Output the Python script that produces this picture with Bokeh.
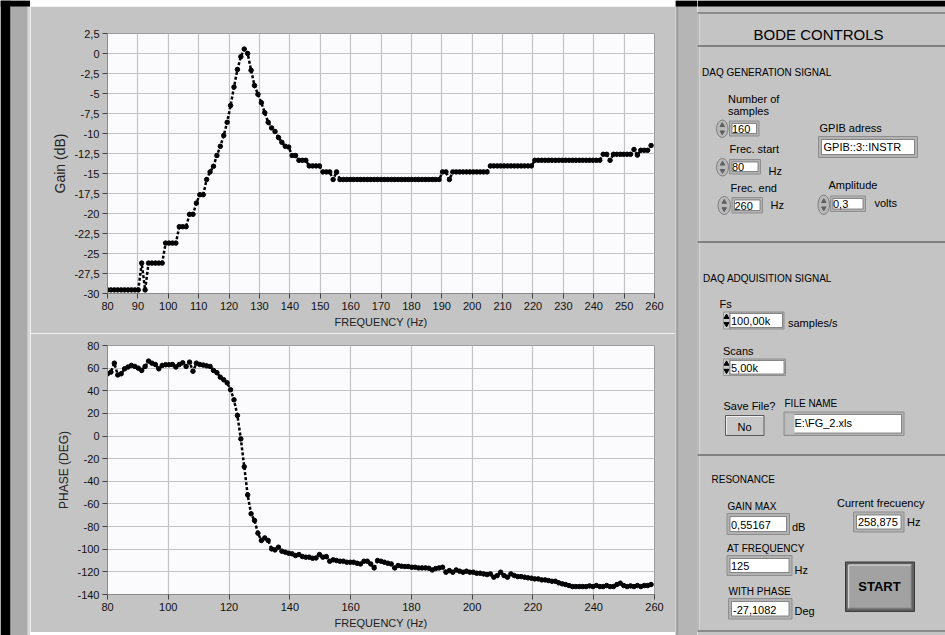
from bokeh.plotting import figure
from bokeh.models import FixedTicker, CustomJSTickFormatter, Range1d
from bokeh.layouts import row, column
from bokeh.embed import file_html
from bokeh.resources import INLINE
from bokeh.core.properties import value

# ---- sweep set-up (as shown in the control panel) ----
SAMPLES = 160
F_START = 80.0
F_END = 260.0
F_STEP = (F_END - F_START) / SAMPLES
freq = [F_START + F_STEP * i for i in range(SAMPLES)]

# ---- measured gain (dB), one value per sweep step ----
gain_db = [
    -29.55, -29.55, -29.55, -29.55, -29.55, -29.55, -29.55, -29.55, -29.55, -29.55,
    -26.2, -29.55, -26.2, -26.2, -26.2, -26.2, -26.2, -23.7, -23.7, -23.7,
    -23.7, -21.65, -21.65, -21.65, -20.1, -20.1, -18.7, -17.65, -17.65, -15.75,
    -14.8, -14.1, -12.75, -11.6, -10.25, -8.6, -6.5, -4.2, -2.0, -0.4,
    0.55167, 0.0, -2.1, -4.0, -5.1, -6.15, -7.4, -8.6, -9.3, -9.75,
    -10.5, -11.1, -11.6, -11.7, -12.75, -12.75, -13.35, -13.35, -13.35, -14.05,
    -14.05, -14.05, -14.05, -14.8, -14.8, -14.8, -15.75, -14.8, -15.75, -15.75,
    -15.75, -15.75, -15.75, -15.75, -15.75, -15.75, -15.75, -15.75, -15.75, -15.75,
    -15.75, -15.75, -15.75, -15.75, -15.75, -15.75, -15.75, -15.75, -15.75, -15.75,
    -15.75, -15.75, -15.75, -15.75, -15.75, -15.75, -15.75, -15.75, -14.8, -14.8,
    -15.75, -14.8, -14.8, -14.8, -14.8, -14.8, -14.8, -14.8, -14.8, -14.8,
    -14.8, -14.8, -14.05, -14.05, -14.05, -14.05, -14.05, -14.05, -14.05, -14.05,
    -14.05, -14.05, -14.05, -14.05, -14.05, -13.35, -13.35, -13.35, -13.35, -13.35,
    -13.35, -13.35, -13.35, -13.35, -13.35, -13.35, -13.35, -13.35, -13.35, -13.35,
    -13.35, -13.35, -13.35, -13.35, -13.35, -12.6, -12.6, -13.35, -12.6, -12.6,
    -12.6, -12.6, -12.6, -12.6, -12.0, -12.7, -12.1, -12.1, -12.1, -11.5,
]

# ---- measured phase (degrees) ----
phase_deg = [
    55.0, 56.5, 64.4, 54.0, 55.0, 59.4, 61.0, 62.4, 61.5, 60.0,
    58.0, 61.5, 66.2, 64.4, 63.2, 59.4, 62.4, 63.0, 63.0, 63.2,
    61.0, 63.2, 64.7, 61.5, 65.3, 57.3, 64.4, 63.2, 62.7, 62.0,
    61.5, 58.0, 56.0, 52.0, 49.7, 47.0, 40.9, 32.0, 18.2, -2.5,
    -27.1082, -52.0, -68.7, -74.6, -85.8, -92.3, -90.0, -92.3, -99.7, -100.6,
    -98.2, -101.7, -102.6, -103.5, -104.1, -105.6, -104.7, -106.5, -107.0, -107.0,
    -108.0, -107.7, -104.7, -107.0, -106.5, -110.6, -109.4, -110.0, -110.6, -110.6,
    -111.5, -111.5, -111.5, -112.4, -113.0, -110.6, -110.6, -113.0, -116.5, -110.0,
    -110.6, -111.5, -112.4, -113.0, -116.5, -114.4, -115.0, -115.3, -115.3, -115.9,
    -115.9, -116.5, -116.5, -116.5, -116.8, -118.3, -117.1, -116.5, -115.9, -120.3,
    -118.9, -120.3, -118.3, -119.4, -120.3, -119.4, -120.3, -120.3, -121.2, -121.2,
    -121.8, -122.4, -121.8, -124.7, -123.3, -120.3, -123.3, -124.7, -121.8, -123.3,
    -124.2, -124.2, -124.7, -125.3, -125.6, -126.2, -126.2, -127.1, -127.1, -127.7,
    -128.3, -128.3, -129.7, -130.6, -131.2, -132.1, -133.0, -133.0, -133.0, -133.0,
    -133.0, -132.4, -133.0, -132.1, -133.0, -133.0, -132.1, -133.0, -133.0, -131.2,
    -130.0, -132.1, -133.0, -132.4, -133.0, -132.1, -133.0, -132.1, -132.1, -131.2,
]

freq_ticks = [80, 90, 100, 110, 120, 130, 140, 150, 160, 170, 180, 190, 200,
              210, 220, 230, 240, 250, 260]
gain_ticks = [2.5, 0, -2.5, -5, -7.5, -10, -12.5, -15, -17.5, -20, -22.5, -25,
              -27.5, -30]
phase_freq_ticks = [80, 100, 120, 140, 160, 180, 200, 220, 240, 260]
phase_ticks = [80, 60, 40, 20, 0, -20, -40, -60, -80, -100, -120, -140]

# resonance read-outs derived from the measured data
peak_i = max(range(SAMPLES), key=lambda k: gain_db[k])


def comma(v, fmt):
    return format(v, fmt).replace(".", ",")


gain_max_txt = comma(gain_db[peak_i], ".5f")
at_freq_txt = comma(freq[peak_i], "g")
with_phase_txt = comma(phase_deg[peak_i], ".4f")
current_txt = comma(freq[-1], ".3f")

FONT = "Liberation Sans"
PANEL = "#C4C4C4"
PLOT_BG = "#FBFBFE"
GRID = "#C3C3C3"
DECIMAL_COMMA = CustomJSTickFormatter(code="return String(tick).replace('.', ',');")


def graph(width, height, xr, yr, borders, xticks, yticks, ylabel, ylabel_size):
    left, right, top, bottom = borders
    p = figure(width=width, height=height, x_range=xr, y_range=yr,
               output_backend="svg", toolbar_location=None,
               min_border_left=left, min_border_right=right,
               min_border_top=top, min_border_bottom=bottom,
               background_fill_color=PLOT_BG, border_fill_color=PANEL,
               outline_line_color="#9C9C9C")
    p.xaxis.ticker = FixedTicker(ticks=xticks)
    p.yaxis.ticker = FixedTicker(ticks=yticks)
    p.yaxis.formatter = DECIMAL_COMMA
    p.xaxis.axis_label = "FREQUENCY (Hz)"
    p.yaxis.axis_label = ylabel
    for ax in p.axis:
        ax.major_label_text_font = FONT
        ax.major_label_text_font_size = "11px"
        ax.major_label_text_color = "#111111"
        ax.axis_label_text_font = FONT
        ax.axis_label_text_font_style = "normal"
        ax.axis_label_text_color = "#222222"
        ax.major_tick_out = 5
        ax.major_tick_in = 0
        ax.minor_tick_out = 0
        ax.minor_tick_in = 0
        ax.major_tick_line_color = "#444444"
        ax.axis_line_color = "#8A8A8A"
        ax.major_label_standoff = 3
        ax.axis_label_standoff = 3
    p.xaxis.axis_label_text_font_size = "11px"
    p.yaxis.axis_label_text_font_size = ylabel_size
    p.grid.grid_line_color = GRID
    p.grid.grid_line_width = 1.2
    return p


def blank(width, height, x0, y0, fill=PANEL):
    """A bare figure whose data units are page pixels (y grows downwards)."""
    return figure(width=width, height=height, x_range=Range1d(x0, x0 + width),
                  y_range=Range1d(y0 + height, y0), output_backend="svg",
                  toolbar_location=None, min_border=0, x_axis_type=None, y_axis_type=None,
                  background_fill_color=fill, border_fill_color=fill,
                  outline_line_color=None)


# gain graph: page y 6..333, plot area 33..293
gain = graph(645, 327, Range1d(80, 260), Range1d(-30, 2.5), (77, 21, 27, 40),
             freq_ticks, gain_ticks, "Gain (dB)", "14px")
gain.line(freq, gain_db, line_color="black", line_width=2.5, line_dash="3 2")
gain.scatter(freq, gain_db, size=4.5, color="black")

# phase graph: page y 333..632, plot area 345..594
phase = graph(645, 299, Range1d(80, 260), Range1d(-140, 80), (77, 21, 12, 38),
              phase_freq_ticks, phase_ticks, "PHASE (DEG)", "12px")
phase.line(freq, phase_deg, line_color="black", line_width=2.5, line_dash="3 2")
phase.scatter(freq, phase_deg, size=4.5, color="black")

# window edge above the graphs and a thin strip below them
top_strip = blank(645, 6, 30, 0, fill="#000000")
bottom_strip = blank(645, 3, 30, 632, fill=PANEL)

# ---- control panel, drawn in page pixel coordinates ----
panel = blank(248, 635, 697, 0)
panel.quad(left=697, right=945, top=0, bottom=6, fill_color="#000000", line_color=None)

# frame and section dividers
panel.segment(x0=[697.5, 697, 697, 698.5], y0=[12, 12.5, 630.5, 13],
              x1=[697.5, 945, 945, 698.5], y1=[631, 12.5, 630.5, 630],
              line_color=["#505050", "#505050", "#505050", "#E6E6E6"], line_width=1)
panel.segment(x0=[697, 697, 697], y0=[45.5, 241.5, 454.5],
              x1=[945, 945, 945], y1=[45.5, 241.5, 454.5],
              line_color="#3C3C3C", line_width=1.2)


def field(x0, y0, x1, y1, inset=2.5):
    panel.quad(left=x0, right=x1, top=y0, bottom=y1, fill_color="#B2B2B2",
               line_color="#8E8E8E", line_width=1)
    panel.quad(left=x0 + inset, right=x1 - inset, top=y0 + inset, bottom=y1 - inset,
               fill_color="white", line_color="#707070", line_width=0.8)


def knob(x0, y0, x1, y1):
    cx, cy = (x0 + x1) / 2, (y0 + y1) / 2
    panel.ellipse(x=cx, y=cy, width=x1 - x0, height=y1 - y0, fill_color="#B9B9B9",
                  line_color="#7D7D7D", line_width=1)
    panel.scatter(x=[cx], y=[cy - 3.5], marker="triangle", size=4.5, color="#606060")
    panel.scatter(x=[cx], y=[cy + 3.5], marker="inverted_triangle", size=4.5, color="#606060")


def arrows(x0, y0, x1, y1):
    cx, cy = (x0 + x1) / 2, (y0 + y1) / 2
    panel.quad(left=x0, right=x1, top=y0, bottom=y1, fill_color="#CACACA",
               line_color="#8E8E8E", line_width=0.8)
    panel.scatter(x=[cx], y=[cy - 3.5], marker="triangle", size=5, color="black")
    panel.scatter(x=[cx], y=[cy + 3.5], marker="inverted_triangle", size=5, color="black")


field(729, 120.5, 758.5, 135.5)
knob(716, 119.5, 727.5, 137)
field(818, 136, 917, 157, inset=3)
field(729, 159, 760, 173.5)
knob(716, 158, 728, 175.5)
field(731.5, 197, 762, 212.5)
knob(717.5, 196, 730, 214)
field(830, 195.5, 865, 211)
knob(817.5, 194.5, 829, 214)
field(728, 311.5, 783.5, 328.5, inset=1.5)
arrows(723, 311.5, 729, 328.5)
field(728, 358.5, 785, 375, inset=1.5)
arrows(723, 358.5, 729, 375)
field(783.5, 411.5, 903.5, 435, inset=2.5)
panel.quad(left=785, right=794, top=413, bottom=433.5, fill_color="#BEBEBE", line_color=None)
field(726.5, 513, 789, 534, inset=3)
field(853, 511.5, 903.5, 531.5, inset=3)
field(726.5, 555, 791.5, 575, inset=3)
field(728, 598, 791.5, 618.5, inset=3)

# "No" toggle button
panel.quad(left=725, right=763.5, top=415, bottom=435, fill_color="#C8C8C8",
           line_color="#5A5A5A", line_width=1)
panel.segment(x0=[726, 726], y0=[416, 416], x1=[762.5, 726], y1=[416, 434],
              line_color="#F0F0F0", line_width=1)

# START button
panel.quad(left=845, right=914, top=561.5, bottom=611, fill_color="#5E5E5E",
           line_color="#3A3A3A", line_width=1)
panel.quad(left=848, right=911, top=564.5, bottom=608, fill_color="#A2A2A2",
           line_color=None)
panel.segment(x0=[848, 848], y0=[564.5, 564.5], x1=[911, 848], y1=[564.5, 608],
              line_color="#CFCFCF", line_width=1.5)
panel.segment(x0=[848, 911], y0=[608, 564.5], x1=[911, 911], y1=[608, 608],
              line_color="#7A7A7A", line_width=1.5)

labels = [
    ("BODE CONTROLS", 818, 33.5, "15px", "normal", "center"),
    ("DAQ GENERATION SIGNAL", 701.5, 71.5, "10px", "normal", "left"),
    ("Number of", 727.5, 98, "11px", "normal", "left"),
    ("samples", 727.5, 110, "11px", "normal", "left"),
    ("160", 731.5, 128.5, "11px", "normal", "left"),
    ("GPIB adress", 819, 127.5, "11px", "normal", "left"),
    ("GPIB::3::INSTR", 823, 146.5, "11px", "normal", "left"),
    ("Frec. start", 729, 148.5, "11px", "normal", "left"),
    ("80", 731.5, 166.5, "11px", "normal", "left"),
    ("Hz", 768, 170, "11px", "normal", "left"),
    ("Frec. end", 730, 187.5, "11px", "normal", "left"),
    ("260", 734, 205, "11px", "normal", "left"),
    ("Hz", 770, 204.5, "11px", "normal", "left"),
    ("Amplitude", 828, 184.5, "11px", "normal", "left"),
    ("0,3", 832.5, 203.5, "11px", "normal", "left"),
    ("volts", 874, 202.5, "11px", "normal", "left"),
    ("DAQ ADQUISITION SIGNAL", 702.5, 277.5, "10px", "normal", "left"),
    ("Fs", 719, 303, "11px", "normal", "left"),
    ("100,00k", 730.5, 320, "11px", "normal", "left"),
    ("samples/s", 787.5, 322.5, "11px", "normal", "left"),
    ("Scans", 722.5, 350, "11px", "normal", "left"),
    ("5,00k", 730.5, 367, "11px", "normal", "left"),
    ("Save File?", 723, 405.5, "11px", "normal", "left"),
    ("FILE NAME", 784, 402.5, "10px", "normal", "left"),
    ("No", 744, 426.5, "11px", "normal", "center"),
    ("E:\\FG_2.xls", 794, 422.5, "11px", "normal", "left"),
    ("RESONANCE", 711, 478.5, "10px", "normal", "left"),
    ("GAIN MAX", 727, 506, "10px", "normal", "left"),
    (gain_max_txt, 730.5, 524, "11px", "normal", "left"),
    ("dB", 791.5, 526, "11px", "normal", "left"),
    ("Current frecuency", 836.5, 502.5, "11px", "normal", "left"),
    (current_txt, 857.5, 521.5, "11px", "normal", "left"),
    ("Hz", 906.5, 521.5, "11px", "normal", "left"),
    ("AT FREQUENCY", 726.5, 547.5, "10px", "normal", "left"),
    (at_freq_txt, 730.5, 565.5, "11px", "normal", "left"),
    ("Hz", 794, 569.5, "11px", "normal", "left"),
    ("WITH PHASE", 728, 591, "10px", "normal", "left"),
    (with_phase_txt, 732.5, 609, "11px", "normal", "left"),
    ("Deg", 794, 610.5, "11px", "normal", "left"),
    ("START", 879, 586, "13px", "bold", "center"),
]
for txt, x, y, size, style, align in labels:
    panel.text(x=[x], y=[y], text=[txt], text_font=value(FONT), text_font_size=size,
               text_font_style=style, text_align=align, text_baseline="middle",
               text_color="black")

# ---- window chrome beside the graphs ----
left_bar = blank(30, 635, 0, 0)
left_bar.quad(left=[0, 10, 27], right=[10, 27, 30], top=0, bottom=635,
              fill_color=["#000000", "#ABABAB", "#D8D8D8"], line_color=None)
left_bar.quad(left=0, right=30, top=0, bottom=6, fill_color="#000000", line_color=None)

divider = blank(22, 635, 675, 0)
divider.quad(left=[675, 677, 678], right=[677, 678, 697], top=0, bottom=635,
             fill_color=["#A6A6A6", "#8A8A8A", "#B5B5B5"], line_color=None)
divider.quad(left=675, right=697, top=0, bottom=6, fill_color="#000000", line_color=None)

graphs = column(top_strip, gain, phase, bottom_strip, spacing=0)
layout = row(left_bar, graphs, divider, panel, spacing=0)

open("out.html", "w").write(file_html(layout, INLINE, "Bode"))
